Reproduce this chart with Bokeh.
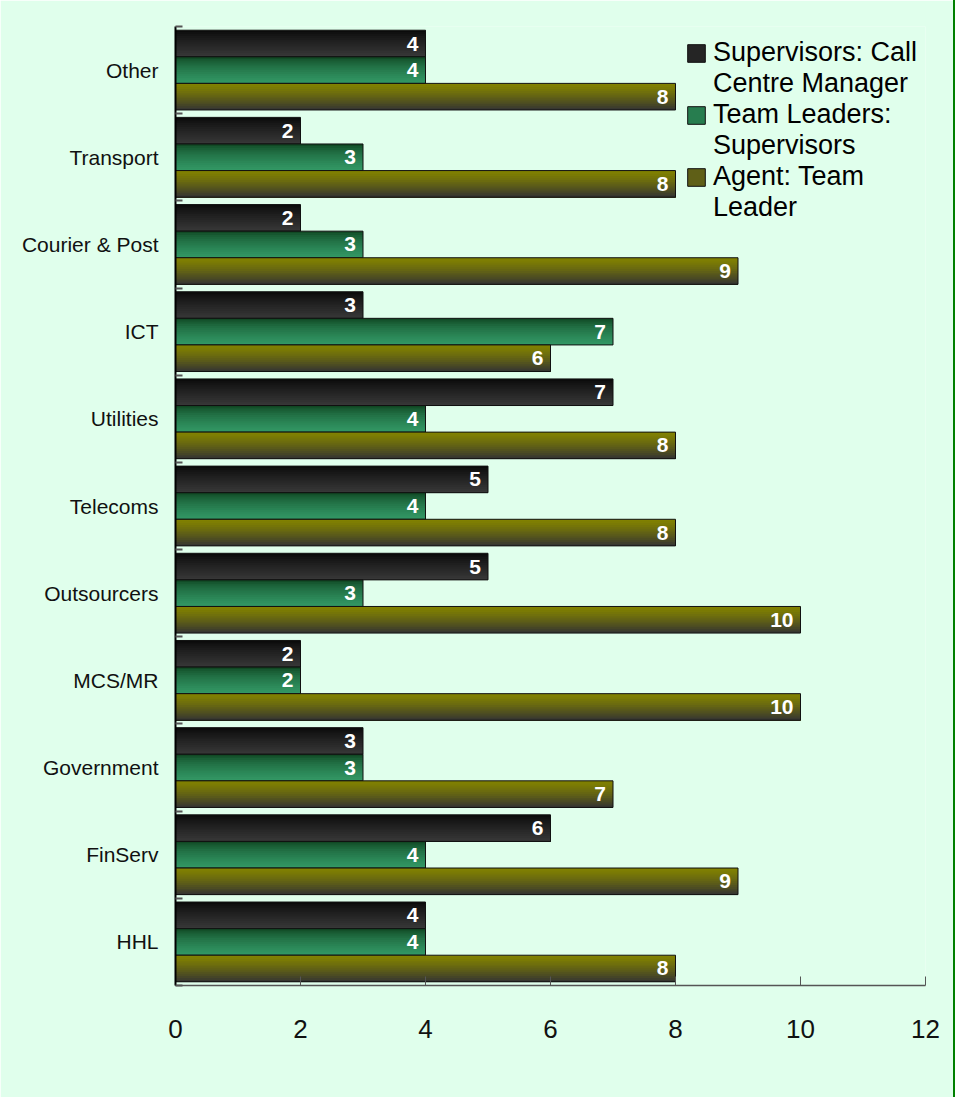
import numpy as np
from bokeh.plotting import figure
from bokeh.models import Range1d, FixedTicker, Legend, LegendItem
from bokeh.embed import file_html
from bokeh.resources import INLINE
from bokeh.core.properties import value

# ---- data (top to bottom as shown) ----
categories = ["Other", "Transport", "Courier & Post", "ICT", "Utilities", "Telecoms",
              "Outsourcers", "MCS/MR", "Government", "FinServ", "HHL"]
supervisors = [4, 2, 2, 3, 7, 5, 5, 2, 3, 6, 4]
team_leaders = [4, 3, 3, 7, 4, 4, 3, 2, 3, 4, 4]
agents = [8, 8, 9, 6, 8, 8, 10, 10, 7, 9, 8]
# legend entries, wrapped over two lines as in the original
legend_lines = [["Supervisors: Call", "Centre Manager"],
                ["Team Leaders:", "Supervisors"],
                ["Agent: Team", "Leader"]]
x_ticks = [0, 2, 4, 6, 8, 10, 12]

# ---- style ----
BG = "#E0FFEC"
FONT = "Liberation Sans"
gradients = [("#080808", "#383838", 0.8),
             ("#0a3a18", "#339966", 0.55),
             ("#828200", "#333333", 1.3)]
N_STRIPS = 14
BAR_H = 0.305


def hex2rgb(h):
    h = h.lstrip("#")
    return np.array([int(h[i:i + 2], 16) for i in (0, 2, 4)], dtype=float)


def mix(c1, c2, t):
    c = hex2rgb(c1) * (1 - t) + hex2rgb(c2) * t
    return "#%02x%02x%02x" % tuple(int(round(v)) for v in c)


n = len(categories)
centers = [n - 1 - j + 0.5 for j in range(n)]

p = figure(width=955, height=1097, x_range=Range1d(0, 12), y_range=Range1d(0, n),
           output_backend="svg", toolbar_location=None,
           min_border_left=175, min_border_right=30, min_border_top=26, min_border_bottom=112,
           background_fill_color=BG, border_fill_color=BG, outline_line_color=None)
p.styles = {"border-right": "2px solid #008000"}

series = [supervisors, team_leaders, agents]
swatch_renderers = []
for s, vals in enumerate(series):
    top_c, bot_c, gamma = gradients[s]
    ys = [c + (1 - s) * BAR_H for c in centers]
    strip_h = BAR_H / N_STRIPS
    mid_r = None
    for k in range(N_STRIPS):
        t = ((k + 0.5) / N_STRIPS) ** gamma
        col = mix(top_c, bot_c, t)
        # each strip covers from its own top down to the bar bottom (no seams)
        h_k = BAR_H - k * strip_h
        yk = [y - BAR_H / 2 + h_k / 2 for y in ys]
        r = p.hbar(y=yk, left=0, right=vals, height=h_k, fill_color=col, line_color=None)
        if k == N_STRIPS // 2:
            mid_r = r
    outline = p.hbar(y=ys, left=0, right=vals, height=BAR_H, fill_alpha=0,
                     line_color="#111111", line_width=1)
    swatch_renderers.append([mid_r, outline])
    p.text(x=vals, y=ys, text=[str(v) for v in vals], x_offset=-7,
           text_align="right", text_baseline="middle", text_color="white",
           text_font=value(FONT), text_font_style="bold", text_font_size="21px")

p.xgrid.visible = False
p.ygrid.visible = False

xa = p.xaxis[0]
xa.ticker = FixedTicker(ticks=x_ticks)
xa.major_tick_in = 9
xa.major_tick_out = 0
xa.axis_line_color = "#555555"
xa.axis_line_width = 1.5
xa.major_tick_line_color = "#555555"
xa.major_label_text_font = FONT
xa.major_label_text_font_size = "26px"
xa.major_label_text_color = "#111111"
xa.major_label_standoff = 34

ya = p.yaxis[0]
ya.ticker = FixedTicker(ticks=centers, minor_ticks=list(range(n + 1)))
ya.major_label_overrides = {c: name for c, name in zip(centers, categories)}
ya.major_tick_in = 0
ya.major_tick_out = 0
ya.minor_tick_in = 7
ya.minor_tick_out = 0
ya.minor_tick_line_color = "#555555"
ya.minor_tick_line_width = 2
ya.axis_line_color = "#000000"
ya.axis_line_width = 2
ya.major_label_text_font = FONT
ya.major_label_text_font_size = "21px"
ya.major_label_text_color = "#111111"
ya.major_label_standoff = 17

# legend: swatch from each series; an empty renderer for the wrapped second lines
items = []
for s, lines in enumerate(legend_lines):
    blank = p.hbar(y=[], left=0, right=[], height=0.1, fill_alpha=0, line_alpha=0)
    items.append(LegendItem(label=lines[0], renderers=swatch_renderers[s]))
    items.append(LegendItem(label=lines[1], renderers=[blank]))

legend = Legend(items=items, location=(510, 762), padding=0, margin=0,
                border_line_color=None, background_fill_alpha=0,
                label_text_font=FONT, label_text_font_size="27px",
                label_text_color="#000000", label_standoff=6,
                glyph_width=22, glyph_height=22, spacing=0)
p.add_layout(legend)

open("out.html", "w").write(file_html(p, INLINE))
